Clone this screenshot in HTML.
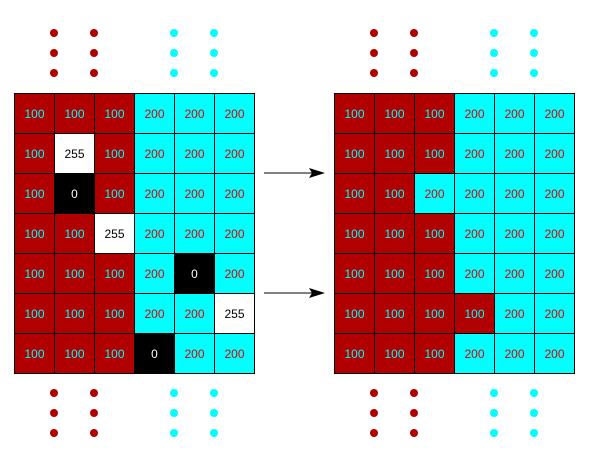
<!DOCTYPE html>
<html><head><style>
body{margin:0;width:616px;height:451px;background:#fff;position:relative;overflow:hidden;font-family:"Liberation Sans",sans-serif}
.g{position:absolute;top:93px;display:grid;grid-template-columns:repeat(6,40px);grid-template-rows:repeat(7,40px);border-left:1px solid #000;border-top:1px solid #000}
.g div{border-right:1px solid #000;border-bottom:1px solid #000;box-sizing:border-box;display:flex;align-items:center;justify-content:center;font-size:12px}
.r{background:#b00000;color:#00ffff}
.c{background:#00ffff;color:#e00000}
.w{background:#fff;color:#000}
.k{background:#000;color:#fff}
.d{position:absolute;width:8px;height:8px;border-radius:50%}
.dr{background:#b00000}.dc{background:#00ffff}
</style></head><body>
<div class="g" style="left:14px">
<div class="r">100</div><div class="r">100</div><div class="r">100</div><div class="c">200</div><div class="c">200</div><div class="c">200</div>
<div class="r">100</div><div class="w">255</div><div class="r">100</div><div class="c">200</div><div class="c">200</div><div class="c">200</div>
<div class="r">100</div><div class="k">0</div><div class="r">100</div><div class="c">200</div><div class="c">200</div><div class="c">200</div>
<div class="r">100</div><div class="r">100</div><div class="w">255</div><div class="c">200</div><div class="c">200</div><div class="c">200</div>
<div class="r">100</div><div class="r">100</div><div class="r">100</div><div class="c">200</div><div class="k">0</div><div class="c">200</div>
<div class="r">100</div><div class="r">100</div><div class="r">100</div><div class="c">200</div><div class="c">200</div><div class="w">255</div>
<div class="r">100</div><div class="r">100</div><div class="r">100</div><div class="k">0</div><div class="c">200</div><div class="c">200</div>
</div>
<div class="g" style="left:334px">
<div class="r">100</div><div class="r">100</div><div class="r">100</div><div class="c">200</div><div class="c">200</div><div class="c">200</div>
<div class="r">100</div><div class="r">100</div><div class="r">100</div><div class="c">200</div><div class="c">200</div><div class="c">200</div>
<div class="r">100</div><div class="r">100</div><div class="c">200</div><div class="c">200</div><div class="c">200</div><div class="c">200</div>
<div class="r">100</div><div class="r">100</div><div class="r">100</div><div class="c">200</div><div class="c">200</div><div class="c">200</div>
<div class="r">100</div><div class="r">100</div><div class="r">100</div><div class="c">200</div><div class="c">200</div><div class="c">200</div>
<div class="r">100</div><div class="r">100</div><div class="r">100</div><div class="r">100</div><div class="c">200</div><div class="c">200</div>
<div class="r">100</div><div class="r">100</div><div class="r">100</div><div class="c">200</div><div class="c">200</div><div class="c">200</div>
</div>
<svg width="616" height="451" style="position:absolute;left:0;top:0">
<defs><g id="dots">
<circle cx="54" cy="33" r="4" fill="#b00000"/><circle cx="94" cy="33" r="4" fill="#b00000"/>
<circle cx="54" cy="53" r="4" fill="#b00000"/><circle cx="94" cy="53" r="4" fill="#b00000"/>
<circle cx="54" cy="73" r="4" fill="#b00000"/><circle cx="94" cy="73" r="4" fill="#b00000"/>
<circle cx="174" cy="33" r="4" fill="#00ffff"/><circle cx="214" cy="33" r="4" fill="#00ffff"/>
<circle cx="174" cy="53" r="4" fill="#00ffff"/><circle cx="214" cy="53" r="4" fill="#00ffff"/>
<circle cx="174" cy="73" r="4" fill="#00ffff"/><circle cx="214" cy="73" r="4" fill="#00ffff"/>
</g></defs>
<use href="#dots"/><use href="#dots" y="360"/>
<use href="#dots" x="320"/><use href="#dots" x="320" y="360"/>
<line x1="264" y1="173" x2="318" y2="173" stroke="#000"/>
<polygon points="325,173 309,168 312,173 309,178" fill="#000"/>
<line x1="264" y1="293" x2="318" y2="293" stroke="#000"/>
<polygon points="325,293 309,288 312,293 309,298" fill="#000"/>
</svg>
</body></html>
